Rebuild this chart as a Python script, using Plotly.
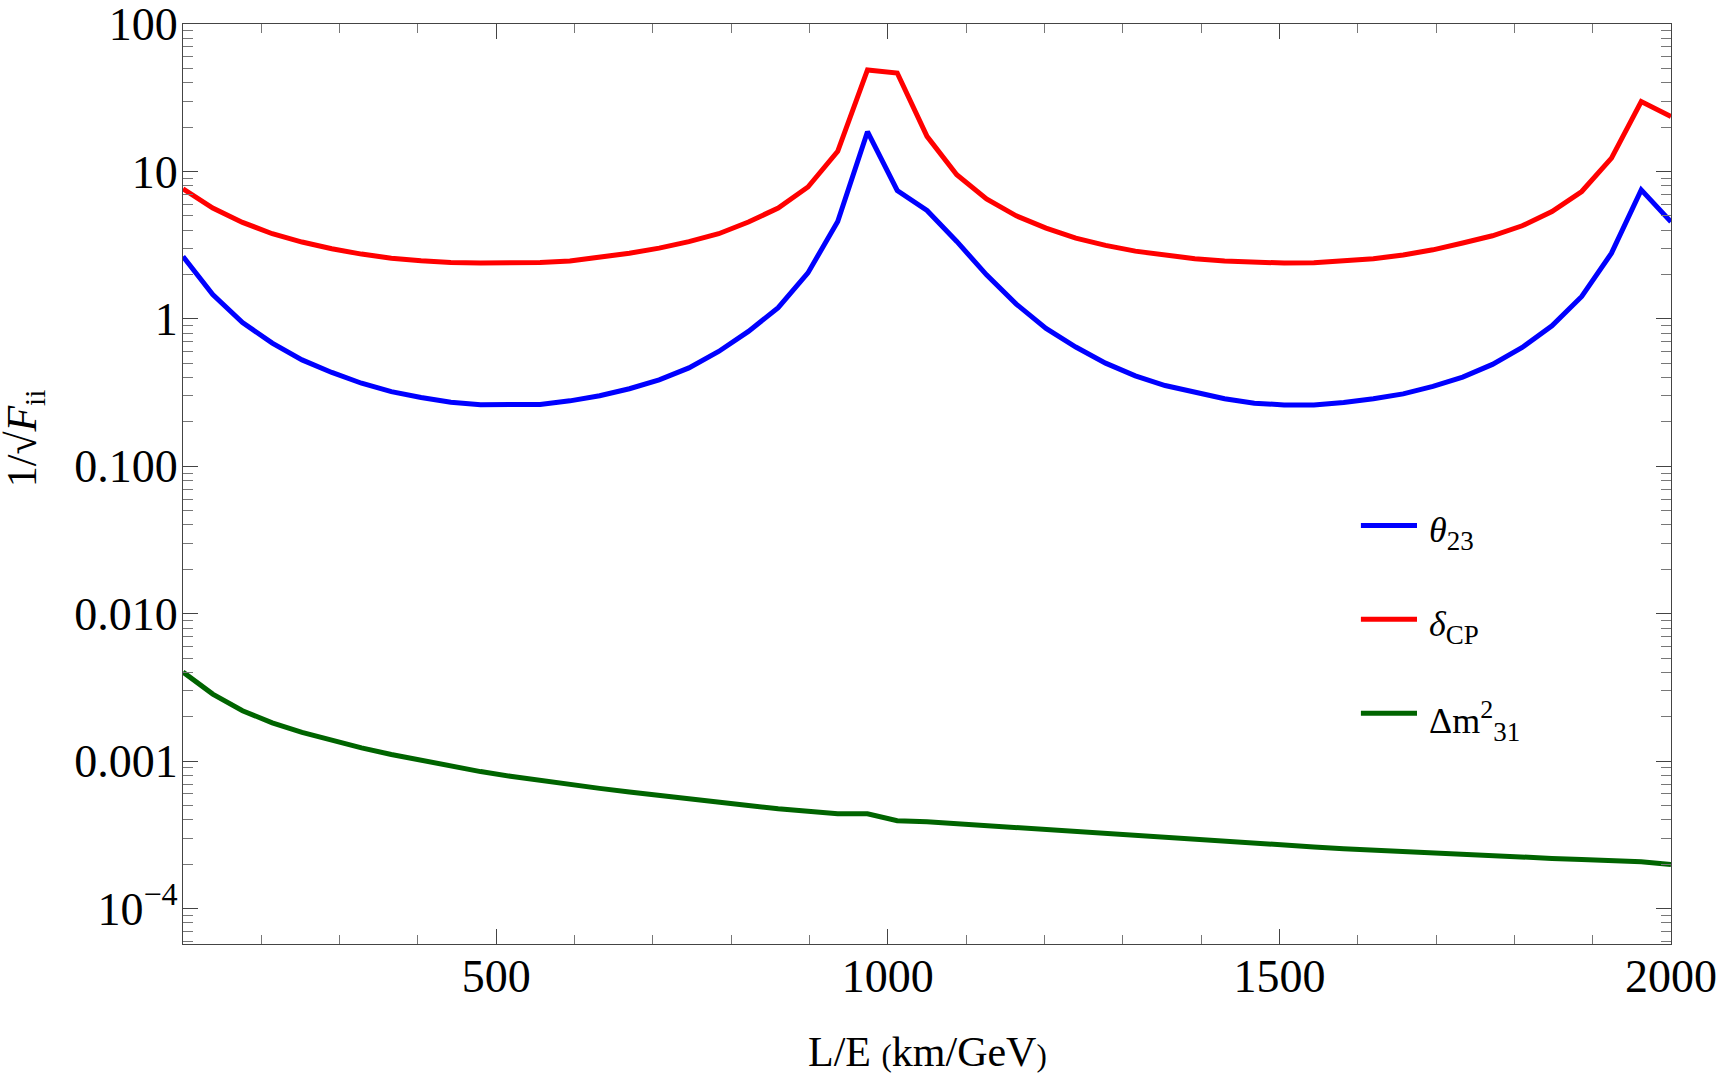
import plotly.graph_objects as go

# ---------------- data ----------------
L_over_E = [100, 138, 176, 214, 252, 290, 328, 366, 404, 442, 480, 518, 556, 594, 632,
            670, 708, 746, 784, 822, 860, 898, 936, 974, 1012, 1050, 1088, 1126, 1164,
            1202, 1240, 1278, 1316, 1354, 1392, 1430, 1468, 1506, 1544, 1582, 1620, 1658,
            1696, 1734, 1772, 1810, 1848, 1886, 1924, 1962, 2000]

theta23 = [2.65, 1.46, 0.944, 0.685, 0.527, 0.433, 0.366, 0.321, 0.293, 0.272, 0.262,
           0.260, 0.263, 0.278, 0.301, 0.336, 0.386, 0.465, 0.601, 0.822, 1.19, 2.05,
           4.58, 18.6, 7.43, 5.44, 3.35, 1.99, 1.26, 0.861, 0.644, 0.501, 0.411, 0.353,
           0.317, 0.287, 0.268, 0.261, 0.261, 0.271, 0.287, 0.310, 0.348, 0.403, 0.491,
           0.640, 0.898, 1.42, 2.79, 7.5, 4.55]

deltaCP = [7.63, 5.65, 4.51, 3.78, 3.32, 2.99, 2.75, 2.58, 2.48, 2.41, 2.39, 2.39, 2.41,
           2.47, 2.61, 2.79, 3.02, 3.34, 3.78, 4.54, 5.65, 7.84, 13.7, 48.8, 46.5, 17.3,
           9.5, 6.5, 5.0, 4.13, 3.53, 3.15, 2.88, 2.69, 2.56, 2.47, 2.41, 2.39, 2.40, 2.47,
           2.56, 2.71, 2.94, 3.27, 3.66, 4.28, 5.35, 7.31, 12.3, 29.8, 23.6]

dm31 = [0.00402, 0.00285, 0.00220, 0.00182, 0.00157, 0.00138, 0.00123, 0.00111, 0.00101,
        0.000920, 0.000850, 0.000790, 0.000738, 0.000693, 0.000654, 0.000617, 0.000583,
        0.000553, 0.000526, 0.000501, 0.000476, 0.000456, 0.000440, 0.000440, 0.000395,
        0.000388, 0.000376, 0.000364, 0.000352, 0.000341, 0.000331, 0.000321, 0.000311,
        0.000301, 0.000292, 0.000284, 0.000276, 0.000269, 0.000262, 0.000255, 0.000249,
        0.000243, 0.000238, 0.000233, 0.000228, 0.000223, 0.000219, 0.000215, 0.000211,
        0.000208, 0.000199]

series_names = ["<i>θ</i><sub><span style='font-size:27px'>23</span></sub>",
                "<i>δ</i><sub><span style='font-size:27px'>CP</span></sub>",
                "Δm<sup><span style='font-size:26px'>2</span></sup><sub><span style='font-size:27px'>31</span></sub>"]
series_colors = ["#0000FF", "#FF0000", "#006400"]

y_tickvals = [1e-4, 1e-3, 1e-2, 1e-1, 1, 10, 100]
y_ticktext = ["10<sup>−4</sup>", "0.001", "0.010", "0.100", "1", "10", "100"]
y_minor = [m * 10 ** e for e in range(-5, 2) for m in range(2, 10)]
x_tickvals = [500, 1000, 1500, 2000]
x_ticktext = ["500", "1000", "1500", "2000"]

FONT = "Liberation Serif"

fig = go.Figure()
for ys, name, col in zip([theta23, deltaCP, dm31], series_names, series_colors):
    fig.add_trace(go.Scatter(x=L_over_E, y=ys, mode="lines", name=name,
                             line=dict(color=col, width=5), showlegend=False))

# manual legend (line sample + label), paper coordinates
leg_y = [0.4548, 0.3531, 0.2508]
for ly, name, col in zip(leg_y, series_names, series_colors):
    fig.add_shape(type="line", xref="paper", yref="paper", x0=0.7916, x1=0.8293,
                  y0=ly, y1=ly, line=dict(color=col, width=5))
    fig.add_annotation(xref="paper", yref="paper", x=0.836, y=ly - 0.008, text=name,
                       showarrow=False, xanchor="left", yanchor="middle",
                       font=dict(family=FONT, size=36, color="black"))

# axis titles
fig.add_annotation(xref="paper", yref="paper", x=0.5, y=-0.117,
                   text="L/E <span style='font-size:31px'>(</span>km/GeV<span style='font-size:31px'>)</span>",
                   showarrow=False, xanchor="center", yanchor="middle",
                   font=dict(family=FONT, size=42, color="black"))
fig.add_annotation(xref="paper", yref="paper", x=-0.106, y=0.55,
                   text="1/√<i>F</i><sub>ii</sub>", textangle=-90,
                   showarrow=False, xanchor="center", yanchor="middle",
                   font=dict(family=FONT, size=42, color="black"))

axis_common = dict(showline=True, linecolor="#444444", linewidth=1.3, mirror="ticks",
                   ticks="inside", tickcolor="#444444", tickwidth=1.2,
                   showgrid=False, zeroline=False, automargin=False,
                   ticklabeloverflow="allow",
                   tickfont=dict(family=FONT, size=46, color="black"))

fig.update_xaxes(range=[100, 2000], tickmode="array", tickvals=x_tickvals,
                 ticktext=x_ticktext, ticklen=15, ticklabelstandoff=-8,
                 minor=dict(ticks="inside", tickmode="linear", tick0=0, dtick=100,
                            ticklen=9, tickcolor="#777777", tickwidth=1.2, showgrid=False),
                 **axis_common)
fig.update_yaxes(type="log", range=[-4.24, 2], tickmode="array", tickvals=y_tickvals,
                 ticktext=y_ticktext, ticklen=15, ticklabelstandoff=-5,
                 minor=dict(ticks="inside", tickmode="array", tickvals=y_minor,
                            ticklen=10, tickcolor="#777777", tickwidth=1.2, showgrid=False),
                 **axis_common)

fig.update_layout(width=1719, height=1079, plot_bgcolor="white", paper_bgcolor="white",
                  margin=dict(l=183, r=48, t=24, b=135), showlegend=False)

fig.write_html("out.html")
